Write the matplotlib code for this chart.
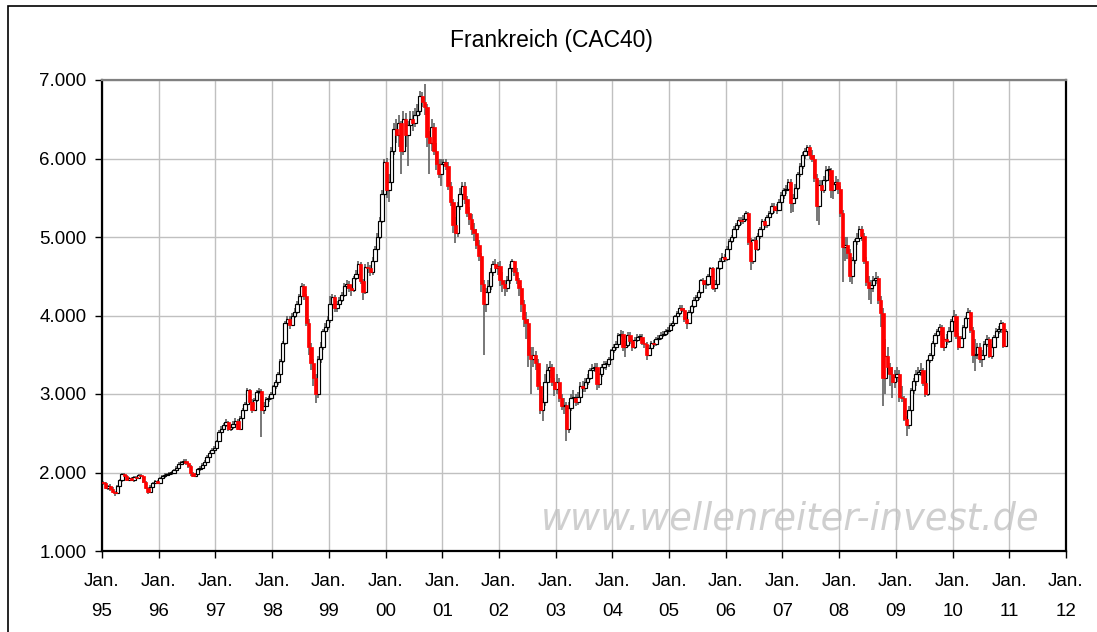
import matplotlib
matplotlib.use("Agg")
import matplotlib.pyplot as plt
import numpy as np
from matplotlib.patches import Rectangle
from matplotlib.ticker import FixedLocator, FuncFormatter

title = "Frankreich (CAC40)"
watermark = "www.wellenreiter-invest.de"
year_ticks = list(range(1995, 2013))
x_tick_labels = [f"Jan.\n{y % 100:02d}" for y in year_ticks]
y_ticks = [1000, 2000, 3000, 4000, 5000, 6000, 7000]
first_open = 1881
periods_per_year = 24  # half-monthly candles

close_1995 = [1860,1800,1830,1790,1750,1740,1830,1900,1980,1950,1910,1930,1900,1940,1930,1970,1950,1880,1800,1750,1820,1860,1890,1872]
high_1995 = [1895,1875,1840,1850,1815,1770,1845,1915,1995,1995,1965,1945,1945,1955,1955,1985,1985,1960,1890,1810,1835,1875,1905,1900]
low_1995 = [1845,1785,1780,1770,1735,1700,1725,1820,1885,1935,1895,1895,1890,1885,1915,1915,1940,1870,1785,1720,1740,1810,1850,1855]

close_1996 = [1930,1950,1970,1980,1990,2000,2030,2060,2110,2130,2150,2120,2080,1990,1960,1980,2040,2060,2100,2140,2200,2250,2290,2316]
high_1996 = [1945,1970,1990,2000,2010,2020,2050,2080,2130,2150,2170,2170,2140,2090,2010,2000,2060,2080,2120,2160,2220,2270,2310,2340]
low_1996 = [1860,1910,1930,1950,1960,1970,1985,2015,2045,2090,2110,2100,2060,1960,1940,1940,1965,2020,2040,2080,2120,2180,2230,2270]

close_1997 = [2400,2520,2560,2600,2640,2560,2580,2620,2660,2560,2700,2800,2870,3050,2900,2800,2920,3020,3040,2800,2850,2930,2950,2999]
high_1997 = [2420,2540,2590,2630,2680,2660,2610,2650,2690,2680,2720,2820,2900,3080,3060,2930,2950,3050,3080,3060,2900,2960,2980,3030]
low_1997 = [2300,2390,2500,2540,2580,2530,2530,2560,2600,2540,2540,2680,2780,2850,2880,2760,2780,2900,3000,2450,2750,2830,2900,2920]

close_1998 = [3100,3150,3250,3420,3650,3900,3950,3880,4000,4050,4150,4250,4380,4250,3900,3600,3400,3200,3000,3450,3600,3800,3850,3943]
high_1998 = [3120,3180,3280,3450,3680,3930,3990,3990,4030,4090,4180,4280,4410,4400,4270,3950,3650,3450,3250,3480,3660,3830,3900,3990]
low_1998 = [2950,3060,3120,3230,3400,3620,3860,3830,3860,3970,4020,4120,4230,4200,3860,3500,3300,3100,2890,2950,3400,3560,3760,3820]

close_1999 = [4150,4230,4100,4150,4200,4260,4380,4400,4350,4330,4480,4530,4650,4440,4300,4620,4600,4560,4700,4850,5000,5200,5550,5958]
high_1999 = [4250,4280,4260,4180,4240,4300,4420,4450,4440,4390,4500,4580,4700,4680,4470,4650,4680,4640,4740,4880,5050,5250,5600,5990]
low_1999 = [3900,4100,4050,4040,4120,4170,4230,4340,4300,4250,4300,4450,4500,4400,4200,4280,4540,4500,4520,4680,4820,4970,5180,5500]

close_2000 = [5600,5700,6100,6380,6300,6450,6100,6500,6300,6430,6500,6450,6550,6600,6800,6720,6650,6270,6200,6400,6100,5930,5800,5926]
high_2000 = [6010,5800,6150,6450,6500,6550,6480,6600,6580,6480,6600,6600,6640,6700,6860,6850,6944,6700,6350,6500,6450,6200,6000,6000]
low_2000 = [5500,5450,5650,6050,6200,6150,5800,6050,6150,5900,6350,6350,6400,6480,6550,6650,6550,6150,5800,6100,6050,5850,5750,5650]

close_2001 = [5950,5900,5650,5450,5150,5050,5400,5550,5650,5480,5300,5230,5100,5050,4900,4760,4400,4150,4300,4380,4550,4650,4600,4625]
high_2001 = [6000,6000,5950,5700,5480,5250,5450,5620,5700,5700,5520,5380,5290,5180,5100,4960,4800,4450,4350,4450,4600,4700,4720,4680]
low_2001 = [5800,5850,5600,5400,5050,4920,5000,5350,5500,5420,5250,5150,5020,4950,4850,4700,4300,3500,4050,4200,4330,4500,4550,4520]

close_2002 = [4450,4400,4350,4450,4600,4690,4550,4450,4350,4150,3950,3900,3500,3450,3500,3400,3100,2800,2900,3150,3300,3350,3150,3064]
high_2002 = [4700,4550,4450,4500,4650,4720,4700,4600,4480,4380,4200,4050,3950,3600,3600,3550,3450,3150,2950,3250,3380,3420,3380,3200]
low_2002 = [4380,4300,4250,4300,4400,4560,4500,4400,4250,4050,3850,3700,3350,3000,3350,3300,3050,2750,2650,2850,3100,3200,3100,2980]

close_2003 = [3150,2950,2850,2860,2550,2820,2950,2950,2900,2960,3100,3080,3150,3210,3300,3330,3350,3130,3250,3350,3380,3380,3450,3558]
high_2003 = [3250,3200,3000,2950,2900,2900,3000,3050,3000,3020,3150,3170,3200,3260,3330,3380,3400,3400,3270,3380,3420,3420,3470,3570]
low_2003 = [3000,2900,2800,2750,2400,2500,2780,2880,2850,2860,2950,3030,3030,3120,3180,3270,3280,3050,3080,3220,3320,3300,3350,3420]

close_2004 = [3600,3640,3750,3770,3600,3625,3750,3670,3600,3690,3720,3730,3650,3640,3500,3590,3650,3640,3700,3710,3750,3760,3800,3821]
high_2004 = [3640,3680,3780,3820,3800,3680,3790,3790,3700,3720,3760,3770,3760,3690,3660,3620,3680,3690,3730,3750,3790,3800,3830,3850]
low_2004 = [3520,3560,3620,3720,3550,3470,3600,3640,3550,3570,3660,3690,3620,3580,3430,3480,3560,3600,3610,3650,3690,3720,3740,3770]

close_2005 = [3880,3910,3990,4030,4100,4070,3950,3910,4050,4120,4200,4230,4300,4450,4400,4400,4500,4600,4350,4400,4600,4700,4750,4715]
high_2005 = [3900,3930,4010,4060,4130,4140,4090,3990,4070,4140,4230,4260,4320,4470,4480,4450,4530,4620,4620,4450,4620,4730,4790,4780]
low_2005 = [3790,3850,3890,3970,4010,4040,3920,3830,3890,4020,4100,4170,4200,4280,4380,4340,4380,4480,4330,4300,4380,4580,4680,4680]

close_2006 = [4850,4950,5000,5100,5150,5220,5200,5230,5300,4930,4700,4960,4850,5010,5100,5200,5150,5250,5300,5400,5350,5350,5450,5541]
high_2006 = [4880,4980,5030,5140,5180,5260,5260,5280,5330,5320,4990,4980,5000,5050,5130,5230,5230,5280,5330,5430,5430,5420,5480,5570]
low_2006 = [4700,4820,4920,4970,5060,5120,5150,5160,5200,4900,4580,4650,4800,4820,4980,5080,5120,5120,5220,5280,5300,5290,5330,5430]

close_2007 = [5600,5610,5700,5430,5500,5630,5800,5900,6050,6100,6150,6050,6000,5750,5400,5660,5600,5720,5850,5850,5600,5670,5700,5614]
high_2007 = [5630,5660,5740,5740,5550,5680,5830,5940,6080,6140,6170,6168,6110,6050,5800,5720,5720,5780,5900,5910,5880,5720,5780,5740]
low_2007 = [5490,5550,5580,5300,5320,5450,5600,5760,5870,6000,6060,6000,5950,5700,5200,5150,5450,5560,5700,5780,5500,5480,5600,5550]

close_2008 = [5300,4870,4900,4790,4500,4710,4950,4990,5100,5010,4700,4430,4350,4390,4450,4480,4200,4030,3200,3490,3350,3260,3150,3218]
high_2008 = [5650,5350,5000,5000,4850,4750,4980,5050,5140,5140,5050,4750,4500,4450,4500,4550,4500,4250,4100,3700,3600,3400,3350,3300]
low_2008 = [5250,4430,4700,4720,4430,4400,4650,4900,4950,4950,4650,4380,4200,4150,4300,4400,4150,3850,2850,3000,3250,3100,2950,3080]

close_2009 = [3250,2960,2950,2680,2600,2800,3050,3160,3250,3280,3300,3140,3000,3430,3500,3650,3750,3800,3850,3600,3700,3680,3800,3936]
high_2009 = [3350,3300,3100,2980,2720,2850,3080,3200,3300,3350,3400,3330,3160,3450,3520,3680,3780,3830,3890,3880,3720,3760,3850,3960]
low_2009 = [3150,2900,2900,2650,2465,2560,2780,3000,3100,3180,3230,3100,2960,2980,3400,3450,3600,3700,3750,3580,3550,3620,3650,3780]

close_2010 = [4000,3740,3600,3710,3850,3970,4050,3820,3500,3510,3600,3440,3500,3640,3700,3490,3600,3720,3800,3830,3900,3610,3800]
high_2010 = [4065,4020,3780,3740,3880,4000,4090,4070,3850,3700,3650,3650,3560,3680,3750,3720,3640,3750,3840,3870,3940,3920,3830]
low_2010 = [3900,3700,3560,3580,3680,3830,3950,3780,3400,3290,3450,3400,3340,3460,3600,3460,3450,3580,3700,3770,3780,3580,3600]

years = list(range(1995, 2011))
closes_by_year = [close_1995, close_1996, close_1997, close_1998, close_1999, close_2000, close_2001, close_2002,
                  close_2003, close_2004, close_2005, close_2006, close_2007, close_2008, close_2009, close_2010]
highs_by_year = [high_1995, high_1996, high_1997, high_1998, high_1999, high_2000, high_2001, high_2002,
                 high_2003, high_2004, high_2005, high_2006, high_2007, high_2008, high_2009, high_2010]
lows_by_year = [low_1995, low_1996, low_1997, low_1998, low_1999, low_2000, low_2001, low_2002,
                low_2003, low_2004, low_2005, low_2006, low_2007, low_2008, low_2009, low_2010]

# assemble candles
xs, cs, hs, ls = [], [], [], []
for yr, cl, hi, lo in zip(years, closes_by_year, highs_by_year, lows_by_year):
    n = min(len(cl), len(hi), len(lo))
    for i in range(n):
        xs.append(yr + (i + 0.5) / periods_per_year)
        cs.append(cl[i]); hs.append(hi[i]); ls.append(lo[i])
xs = np.array(xs, float)
cs = np.array(cs, float)
os_ = np.concatenate([[first_open], cs[:-1]])
hs = np.maximum(np.array(hs, float), np.maximum(os_, cs))
ls = np.minimum(np.array(ls, float), np.minimum(os_, cs))

W, H = 1097, 632
fig = plt.figure(figsize=(W / 100, H / 100), dpi=100)
fig.patch.set_facecolor("white")
ax = fig.add_axes([102 / W, 1 - 551 / H, (1066 - 102) / W, (551 - 80) / H])

font = "Liberation Sans"

# watermark
ax.text(0.714, 0.068, watermark, transform=ax.transAxes, ha="center", va="center",
        fontsize=26.5, style="italic", family="DejaVu Sans", color="#cfcfcf", zorder=0.2)

# candles
bw = 0.058
ax.vlines(xs, ls, hs, color="#606060", lw=1.2, zorder=2)
up = cs >= os_
dn = ~up
min_h = 14
ax.bar(xs[up], np.maximum(cs[up] - os_[up], min_h), bottom=os_[up], width=bw,
       facecolor="white", edgecolor="black", lw=0.85, zorder=3)
ax.bar(xs[dn], np.maximum(os_[dn] - cs[dn], min_h), bottom=cs[dn], width=bw,
       facecolor="#ff0000", edgecolor="#ff0000", lw=0.5, zorder=3)

ax.set_xlim(1995, 2012)
ax.set_ylim(1000, 7000)
ax.xaxis.set_major_locator(FixedLocator(year_ticks))
ax.set_xticklabels(x_tick_labels, family=font, fontsize=13.5, linespacing=1.95)
ax.yaxis.set_major_locator(FixedLocator(y_ticks))
ax.yaxis.set_major_formatter(FuncFormatter(lambda v, p: f"{v:,.0f}".replace(",", ".")))
for lab in ax.get_yticklabels():
    lab.set_family(font)
    lab.set_fontsize(13.5)
ax.tick_params(axis="both", direction="out", length=5, width=1, color="black")
ax.tick_params(axis="x", pad=11)
ax.tick_params(axis="y", pad=6)

ax.grid(True, color="#c0c0c0", lw=1)
ax.set_axisbelow(True)
for s in ["left", "bottom", "right"]:
    ax.spines[s].set_color("black")
    ax.spines[s].set_linewidth(1.6)
ax.spines["top"].set_color("#808080")
ax.spines["top"].set_linewidth(1.6)

# title
fig.text(551 / W, 1 - 40 / H, title, ha="center", va="center", fontsize=16.5, family=font)

# outer chart frame
fig.add_artist(Rectangle((8 / W, -0.1), 1.2, 1 - 6 / H + 0.1, transform=fig.transFigure,
                         fill=False, edgecolor="black", lw=1.2))

fig.savefig("out.png", dpi=100)
